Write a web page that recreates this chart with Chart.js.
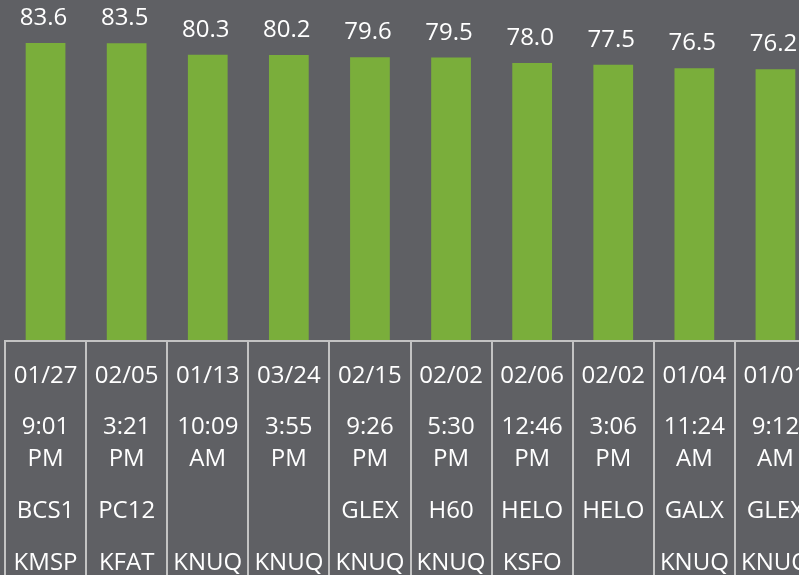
<!DOCTYPE html>
<html>
<head>
<meta charset="utf-8">
<script src="https://cdn.jsdelivr.net/npm/chart.js@4.4.1/dist/chart.umd.min.js"></script>
<style>
  html, body { margin: 0; padding: 0; background: #5f6064; overflow: hidden; }
  #wrap { width: 820px; height: 600px; }
</style>
</head>
<body>
<div id="wrap"><canvas id="chart" width="820" height="600"></canvas></div>
<script>
// data
const values = [83.6, 83.5, 80.3, 80.2, 79.6, 79.5, 78.0, 77.5, 76.5, 76.2];
const dates = ['01/27', '02/05', '01/13', '03/24', '02/15', '02/02', '02/06', '02/02', '01/04', '01/01'];
const times = ['9:01 PM', '3:21 PM', '10:09 AM', '3:55 PM', '9:26 PM', '5:30 PM', '12:46 PM', '3:06 PM', '11:24 AM', '9:12 AM'];
const types = ['BCS1', 'PC12', '', '', 'GLEX', 'H60', 'HELO', 'HELO', 'GALX', 'GLEX'];
const airports = ['KMSP', 'KFAT', 'KNUQ', 'KNUQ', 'KNUQ', 'KNUQ', 'KSFO', '', 'KNUQ', 'KNUQ'];

const FONT = '24px "Open Sans", sans-serif';
const LINE = '#c3c3c3';

// value labels above bars + the multi level category table under the plot
const tablePlugin = {
  id: 'table',
  afterDatasetsDraw(chart) {
    const ctx = chart.ctx;
    const area = chart.chartArea;
    const x = chart.scales.x;
    const meta = chart.getDatasetMeta(0);
    const w = x.width / dates.length;

    ctx.save();
    ctx.fillStyle = '#ffffff';
    ctx.font = FONT;
    ctx.textAlign = 'center';

    ctx.textBaseline = 'alphabetic';
    meta.data.forEach((bar, i) => {
      ctx.fillText(values[i].toFixed(1), bar.x - 2, bar.y - 18);
    });

    // grid of the category table
    ctx.strokeStyle = LINE;
    ctx.lineWidth = 2;
    ctx.beginPath();
    ctx.moveTo(area.left - 1, area.bottom + 1);
    ctx.lineTo(chart.width, area.bottom + 1);
    for (let i = 0; i <= dates.length; i++) {
      const bx = Math.round(x.getPixelForValue(i) - w / 2);
      ctx.moveTo(bx, area.bottom);
      ctx.lineTo(bx, chart.height);
    }
    ctx.stroke();

    ctx.textBaseline = 'middle';
    dates.forEach((d, i) => {
      const cx = x.getPixelForValue(i);
      const t = times[i].split(' ');
      ctx.fillText(d, cx, 376);
      ctx.fillText(t[0], cx, 427);
      ctx.fillText(t[1], cx, 459);
      ctx.fillText(types[i], cx, 511);
      ctx.fillText(airports[i], cx, 563);
    });
    ctx.restore();
  }
};

new Chart(document.getElementById('chart'), {
  type: 'bar',
  data: {
    labels: dates,
    datasets: [{
      data: values,
      backgroundColor: '#7aae3b',
      borderWidth: 0,
      categoryPercentage: 1,
      barPercentage: 0.49
    }]
  },
  options: {
    responsive: false,
    animation: false,
    devicePixelRatio: 1,
    layout: { padding: { left: 5, right: 4, top: 0, bottom: 260 } },
    plugins: { legend: { display: false }, tooltip: { enabled: false } },
    scales: {
      x: { display: false },
      y: { display: false, min: 0, max: 95.7 }
    }
  },
  plugins: [tablePlugin]
});
</script>
</body>
</html>
